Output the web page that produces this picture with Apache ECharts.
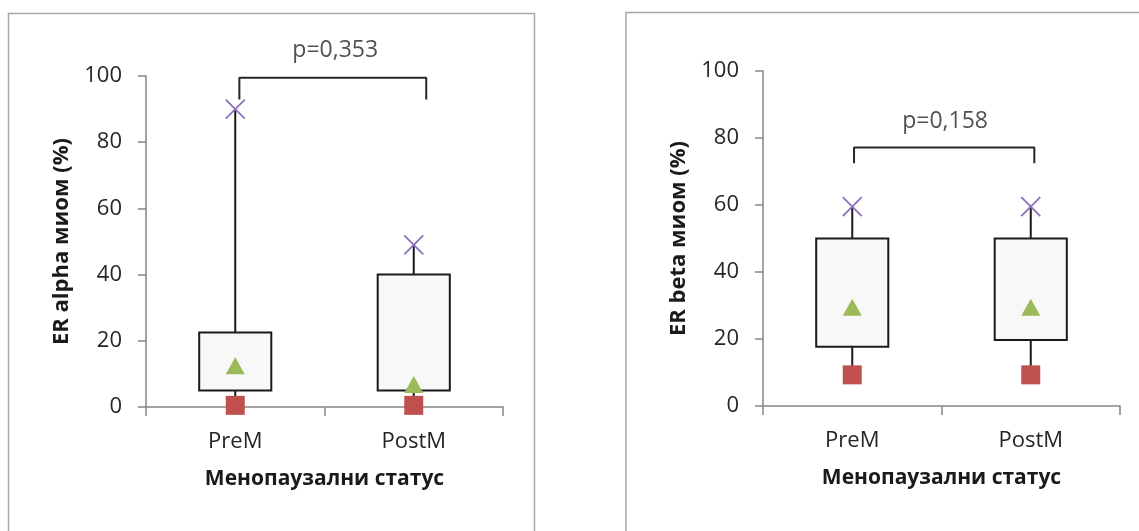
<!DOCTYPE html>
<html>
<head>
<meta charset="utf-8">
<script src="https://cdn.jsdelivr.net/npm/echarts@6/dist/echarts.min.js"></script>
<style>
html,body{margin:0;padding:0;background:#fff;}
#chart{width:1139px;height:531px;}
</style>
</head>
<body>
<div id="chart"></div>
<script>
// ---- data ----
var categories = ['PreM', 'PostM'];
var yTicks = [0, 20, 40, 60, 80, 100];

// ER alpha (left panel)
var alphaMin = [0.5, 0.5];
var alphaQ1 = [5, 5];
var alphaMedian = [12.5, 6.8];
var alphaQ3 = [22.5, 40];
var alphaMax = [90, 49];
var alphaP = 'p=0,353';
var alphaBracketX = [0.023, 1.07];
var alphaBracketY = [92.9, 99.5];
var alphaPPos = [0.56, 107.6];

// ER beta (right panel)
var betaMin = [9.3, 9.3];
var betaQ1 = [17.7, 19.7];
var betaMedian = [29.5, 29.5];
var betaQ3 = [50, 50];
var betaMax = [59.5, 59.5];
var betaP = 'p=0,158';
var betaBracketX = [0.01, 1.02];
var betaBracketY = [72.5, 77.2];
var betaPPos = [0.52, 85.0];

var yNames = ['ER alpha миом (%)', 'ER beta миом (%)'];
var xName = 'Менопаузални статус';

// ---- styles ----
var FONT = 'Open Sans';
var TXT = '#262626';
var AXIS = '#868686';
var crossPath = 'path://M0,0L10,10M10,0L0,10';

function boxRows(q1, q3, mn, mx) {
  return categories.map(function (c, i) { return [i, q1[i], q3[i], mn[i], mx[i]]; });
}
function pts(arr) {
  return categories.map(function (c, i) { return [i, arr[i]]; });
}
function bracket(bx, by) {
  return [[bx[0], by[0]], [bx[0], by[1]], [bx[1], by[1]], [bx[1], by[0]]];
}

function renderBox(params, api) {
  var x = api.value(0);
  var pQ1 = api.coord([x, api.value(1)]);
  var pQ3 = api.coord([x, api.value(2)]);
  var pMin = api.coord([x, api.value(3)]);
  var pMax = api.coord([x, api.value(4)]);
  var w = api.size([1, 0])[0] * 0.404;
  var cx = pQ1[0];
  var lineStyle = { stroke: '#1a1a1a', lineWidth: 2 };
  return {
    type: 'group',
    children: [
      { type: 'line', shape: { x1: cx, y1: pMax[1], x2: cx, y2: pQ3[1] }, style: lineStyle },
      { type: 'line', shape: { x1: cx, y1: pQ1[1], x2: cx, y2: pMin[1] }, style: lineStyle },
      { type: 'rect', shape: { x: cx - w / 2, y: pQ3[1], width: w, height: pQ1[1] - pQ3[1] },
        style: { fill: '#f8f8f8', stroke: '#1a1a1a', lineWidth: 2 } }
    ]
  };
}

var grids = [
  { left: 146, top: 76, width: 357, height: 331 },
  { left: 763, top: 71, width: 357, height: 335 }
];

var xAxes = [], yAxes = [], series = [];
var panels = [
  { min: alphaMin, q1: alphaQ1, med: alphaMedian, q3: alphaQ3, max: alphaMax, p: alphaP, bx: alphaBracketX, by: alphaBracketY, pp: alphaPPos },
  { min: betaMin, q1: betaQ1, med: betaMedian, q3: betaQ3, max: betaMax, p: betaP, bx: betaBracketX, by: betaBracketY, pp: betaPPos }
];

panels.forEach(function (d, g) {
  xAxes.push({
    type: 'category', gridIndex: g, data: categories, boundaryGap: true,
    axisLine: { onZero: false, lineStyle: { color: AXIS, width: 1.5 } },
    axisTick: { show: true, length: 9, interval: 0, lineStyle: { color: AXIS, width: 1.5 } },
    axisLabel: { fontFamily: FONT, fontSize: 22, color: TXT, margin: 24 },
    name: xName, nameLocation: 'middle', nameGap: 62,
    nameTextStyle: { fontFamily: FONT, fontSize: 21, fontWeight: 'bold', color: '#1a1a1a' }
  });
  xAxes.push({ type: 'value', gridIndex: g, min: -0.5, max: 1.5, show: false });
  yAxes.push({
    type: 'value', gridIndex: g, min: 0, max: 100, interval: 20,
    axisLine: { show: true, onZero: false, lineStyle: { color: AXIS, width: 1.5 } },
    axisTick: { show: true, length: 8, lineStyle: { color: AXIS, width: 1.5 } },
    splitLine: { show: false },
    axisLabel: { fontFamily: FONT, fontSize: 22, color: TXT, margin: 24,
      formatter: function (v) { return yTicks.indexOf(v) >= 0 ? String(v) : ''; } },
    name: yNames[g], nameLocation: 'middle', nameGap: 73,
    nameTextStyle: { fontFamily: FONT, fontSize: 22, fontWeight: 'bold', color: '#1a1a1a' }
  });
  var xi = g * 2, xv = g * 2 + 1;
  series.push({
    type: 'custom', xAxisIndex: xi, yAxisIndex: g, renderItem: renderBox,
    data: boxRows(d.q1, d.q3, d.min, d.max), z: 2, silent: true
  });
  series.push({
    type: 'scatter', xAxisIndex: xi, yAxisIndex: g, data: pts(d.max), symbol: crossPath,
    symbolSize: 19, itemStyle: { color: 'none', borderColor: '#8a72bb', borderWidth: 1.8, opacity: 1 }, z: 4, clip: false
  });
  series.push({
    type: 'scatter', xAxisIndex: xi, yAxisIndex: g, data: pts(d.min), symbol: 'rect',
    symbolSize: 19, itemStyle: { color: '#c0504d', opacity: 1 }, z: 4, clip: false
  });
  series.push({
    type: 'scatter', xAxisIndex: xi, yAxisIndex: g, data: pts(d.med), symbol: 'triangle',
    symbolSize: [19, 17], itemStyle: { color: '#9bbb59', opacity: 1 }, z: 4, clip: false
  });
  series.push({
    type: 'line', xAxisIndex: xv, yAxisIndex: g, data: bracket(d.bx, d.by), symbol: 'none',
    lineStyle: { color: '#262626', width: 2 }, clip: false, z: 3, silent: true
  });
  series.push({
    type: 'scatter', xAxisIndex: xv, yAxisIndex: g, data: [d.pp], symbolSize: 0, clip: false,
    label: { show: true, position: 'inside', formatter: d.p, fontFamily: FONT, fontSize: 23, color: '#262626' },
    silent: true
  });
});

var chart = echarts.init(document.getElementById('chart'), null, { renderer: 'canvas' });
chart.setOption({
  backgroundColor: '#ffffff',
  animation: false,
  grid: grids,
  xAxis: xAxes,
  yAxis: yAxes,
  series: series,
  graphic: [
    { type: 'rect', shape: { x: 8.5, y: 13.5, width: 526, height: 600 }, style: { fill: 'none', stroke: '#a6a6a6', lineWidth: 1.5 }, z: -1 },
    { type: 'rect', shape: { x: 626, y: 12.5, width: 600, height: 600 }, style: { fill: 'none', stroke: '#a6a6a6', lineWidth: 1.5 }, z: -1 }
  ]
});
</script>
</body>
</html>
